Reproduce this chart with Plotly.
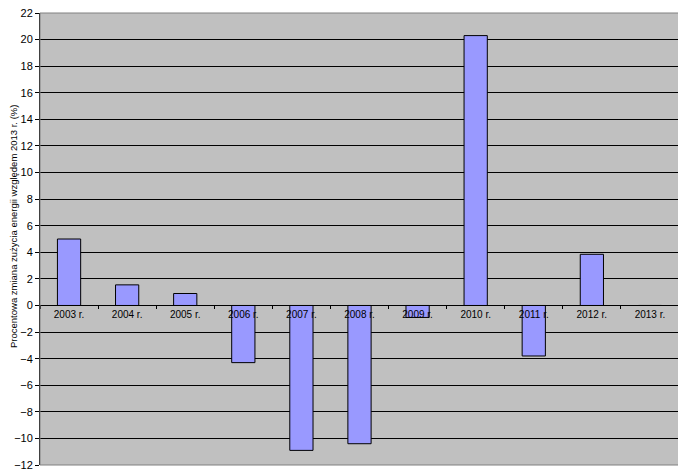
import plotly.graph_objects as go

years = ["2003 r.", "2004 r.", "2005 r.", "2006 r.", "2007 r.", "2008 r.",
         "2009 r.", "2010 r.", "2011 r.", "2012 r.", "2013 r."]
change_pct = [5.0, 1.55, 0.9, -4.3, -10.9, -10.4, -0.9, 20.3, -3.8, 3.85, 0.0]

Y_MIN, Y_MAX = -12, 22
Y_TITLE = "Procentowa zmiana zużycia energii względem 2013 r. (%)"

fig = go.Figure()

fig.add_trace(
    go.Bar(
        x=years,
        y=change_pct,
        width=0.4,
        marker=dict(color="#9999FF", line=dict(color="black", width=1)),
        showlegend=False,
    )
)

# strona ma domyslny margines body 8px, wiec figura jest o 8px mniejsza
fig.update_layout(
    width=678,
    height=465,
    margin=dict(l=32, r=7, t=5, b=8),
    paper_bgcolor="white",
    plot_bgcolor="#C0C0C0",
    font=dict(family="Arial, Liberation Sans", size=10, color="black"),
    xaxis=dict(
        anchor="free",
        position=(0 - Y_MIN) / (Y_MAX - Y_MIN),  # os x przecina y = 0
        showline=True,
        linecolor="black",
        linewidth=1,
        ticks="outside",
        tickson="boundaries",
        ticklen=3,
        tickcolor="black",
        showgrid=False,
        tickfont=dict(size=10),
        layer="above traces",
        automargin=False,
    ),
    yaxis=dict(
        range=[Y_MIN, Y_MAX],
        dtick=2,
        showgrid=True,
        gridcolor="black",
        gridwidth=1,
        zeroline=False,
        showline=True,
        linecolor="black",
        ticks="outside",
        ticklen=4,
        tickcolor="black",
        tickfont=dict(size=11),
        ticklabeloverflow="allow",
        automargin=False,
    ),
    annotations=[
        dict(
            text=Y_TITLE,
            xref="paper", yref="paper",
            x=0, y=0.5,
            xanchor="center", yanchor="middle",
            xshift=-27, yshift=12,
            textangle=-90,
            showarrow=False,
            font=dict(size=9.5),
        )
    ],
    shapes=[
        dict(type="rect", xref="paper", yref="paper", x0=0, x1=1, y0=0, y1=1,
             line=dict(color="#808080", width=1), layer="above"),
    ],
)

fig.write_html("out.html")
